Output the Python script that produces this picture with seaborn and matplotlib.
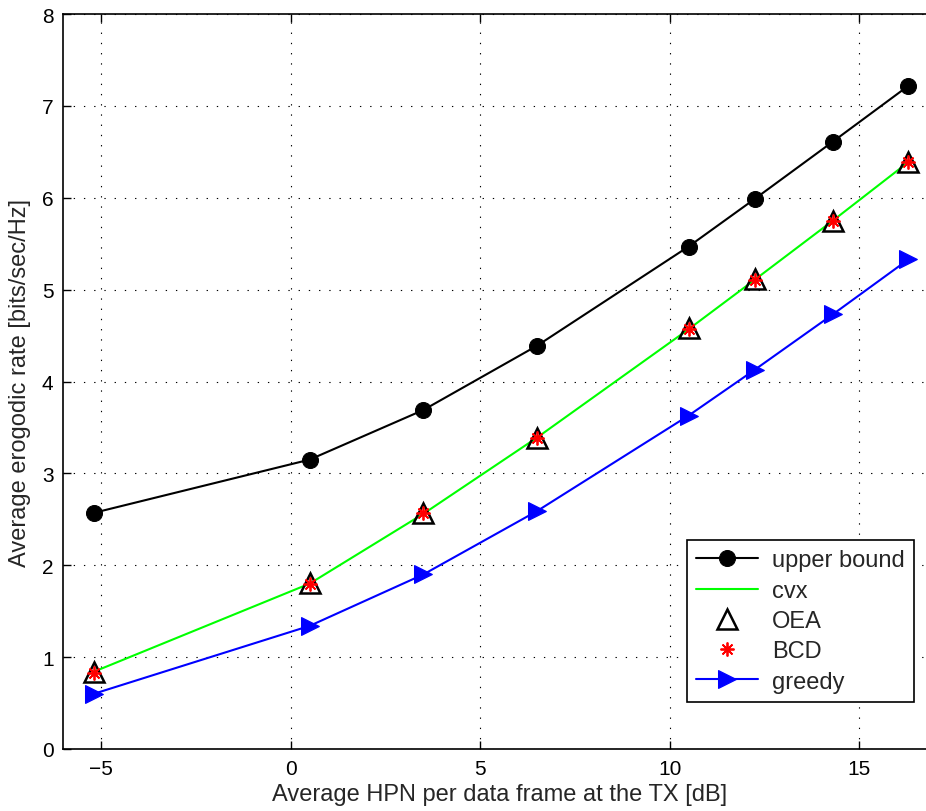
import seaborn as sns
import matplotlib.pyplot as plt

# values
hpn_db = [-5.2, 0.5, 3.5, 6.5, 10.5, 12.25, 14.3, 16.3]
upper_bound = [2.57, 3.15, 3.69, 4.39, 5.47, 5.99, 6.61, 7.22]
cvx = [0.84, 1.80, 2.56, 3.39, 4.57, 5.11, 5.75, 6.39]
oea = [0.84, 1.81, 2.57, 3.39, 4.58, 5.12, 5.75, 6.39]
bcd = [0.83, 1.80, 2.57, 3.38, 4.57, 5.11, 5.75, 6.39]
greedy = [0.60, 1.34, 1.90, 2.59, 3.63, 4.13, 4.73, 5.33]

sns.set_theme(style="ticks")
plt.rcParams['font.family'] = ['Liberation Sans', 'DejaVu Sans']

fig = plt.figure(figsize=(9.26, 8.12), dpi=100)
ax = fig.add_axes([0.0684, 0.0764, 0.9413, 0.905])

sns.lineplot(x=hpn_db, y=upper_bound, ax=ax, color='black', lw=1.5,
             marker='o', markersize=11.5, markeredgecolor='black', label='upper bound')
sns.lineplot(x=hpn_db, y=cvx, ax=ax, color='#00ff00', lw=1.5, label='cvx')
sns.lineplot(x=hpn_db, y=oea, ax=ax, color='black', linestyle='none',
             marker='^', markersize=15, markerfacecolor='none',
             markeredgecolor='black', markeredgewidth=1.8, label='OEA')
sns.lineplot(x=hpn_db, y=bcd, ax=ax, color='red', linestyle='none',
             marker=(8, 2, 0), markersize=10, markeredgecolor='red',
             markeredgewidth=1.3, label='BCD')
sns.lineplot(x=hpn_db, y=greedy, ax=ax, color='blue', lw=1.5,
             marker='>', markersize=13, markeredgecolor='blue', label='greedy')

ax.set_xlim(-6, 17)
ax.set_ylim(0, 8)
ax.set_xticks([-5, 0, 5, 10, 15])
ax.set_yticks(range(0, 9))
ax.set_xticklabels(['\u22125', '0', '5', '10', '15'])

ax.grid(True, color='black', linestyle=(0, (1.2, 8)), linewidth=0.8)
ax.tick_params(direction='in', length=6, width=1, labelsize=15, pad=7,
               top=True, right=True, colors='black')
for s in ax.spines.values():
    s.set_color('black')
    s.set_linewidth(1.2)

ax.set_xlabel('Average HPN per data frame at the TX [dB]', fontsize=17, labelpad=4)
ax.set_ylabel('Average erogodic rate [bits/sec/Hz]', fontsize=17, labelpad=8)

leg = ax.legend(loc='lower right', bbox_to_anchor=(914 / 926, 109 / 812),
                bbox_transform=fig.transFigure, borderaxespad=0, fontsize=17,
                handlelength=2.6, handletextpad=0.6, fancybox=False, framealpha=1,
                edgecolor='black', borderpad=0.4, labelspacing=0.35)
leg.get_frame().set_linewidth(1.2)

fig.savefig('out.png', dpi=100)
